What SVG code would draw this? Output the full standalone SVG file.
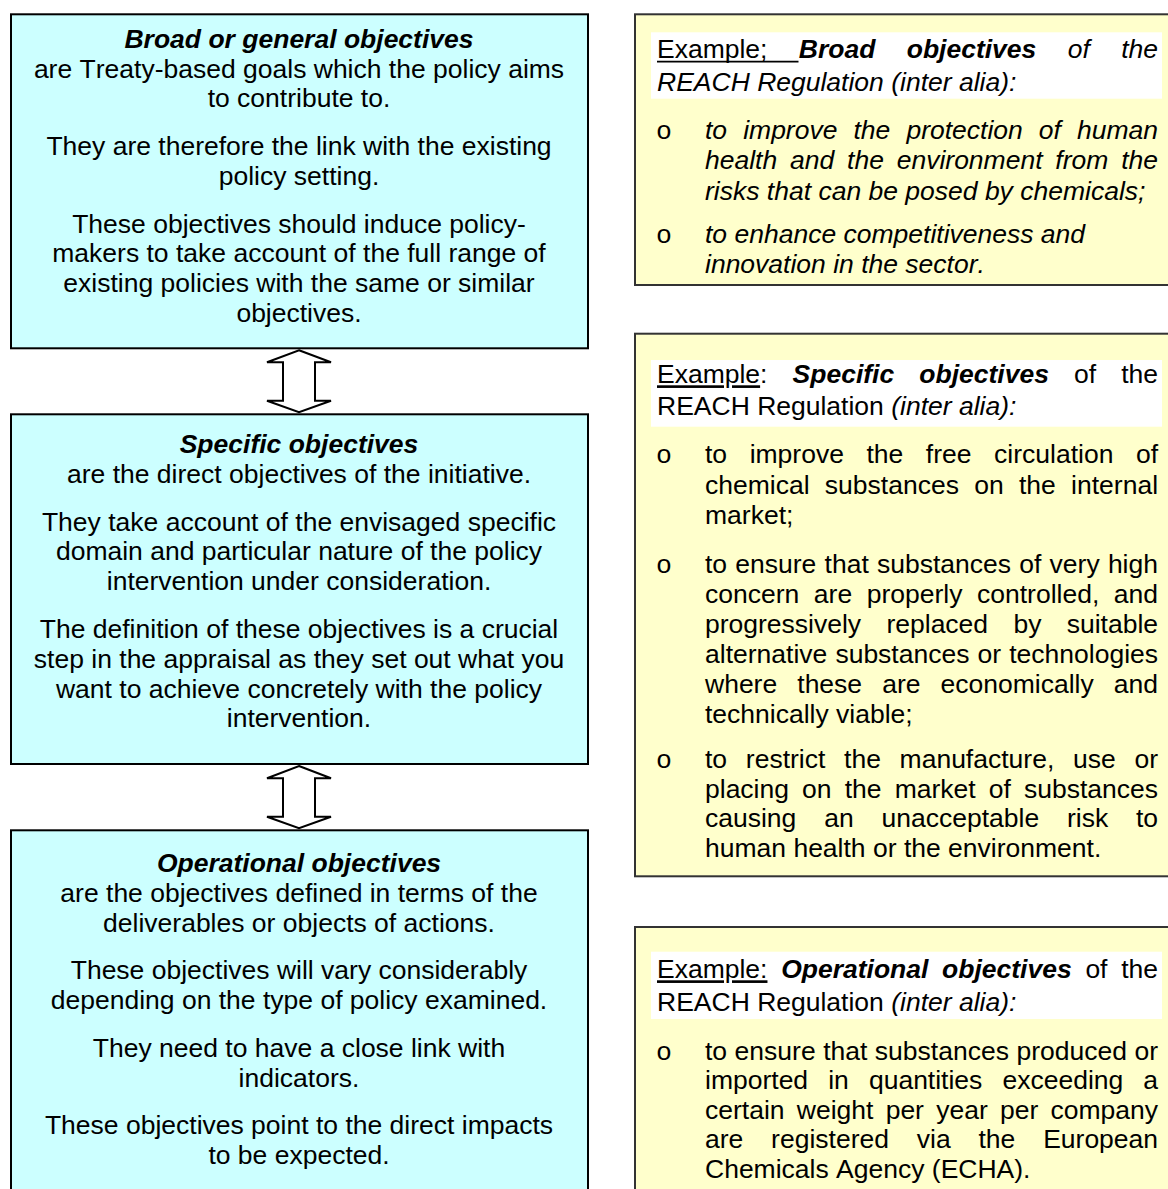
<svg xmlns="http://www.w3.org/2000/svg" width="1168" height="1189" viewBox="0 0 1168 1189">
<style>
text{font-family:"Liberation Sans",Arial,sans-serif;font-size:26.5px;fill:#000;font-kerning:none}
text.b{font-family:"Liberation Mono","Courier New",monospace}
.c{text-anchor:middle}
.bi{font-weight:bold;font-style:italic}
.i{font-style:italic}
.u{text-decoration:underline}
.boxl{fill:#CCFFFF;stroke:#000;stroke-width:2}
.boxr{fill:#FFFFCC;stroke:#333;stroke-width:2}
.hl{fill:#FFFFFF}
.arrow{fill:#FFFFFF;stroke:#000;stroke-width:2;stroke-linejoin:miter}
</style>
<rect width="1168" height="1189" fill="#FFFFFF"/>

<g id="broad">
<rect class="boxl" x="11" y="14.3" width="577" height="334"/>
<text class="c" x="299" y="48"><tspan class="bi">Broad or general objectives</tspan></text>
<text class="c" x="299" y="77.6">are Treaty-based goals which the policy aims</text>
<text class="c" x="299" y="107.2">to contribute to.</text>
<text class="c" x="299" y="155.2">They are therefore the link with the existing</text>
<text class="c" x="299" y="184.8">policy setting.</text>
<text class="c" x="299" y="232.8">These objectives should induce policy-</text>
<text class="c" x="299" y="262.4">makers to take account of the full range of</text>
<text class="c" x="299" y="292">existing policies with the same or similar</text>
<text class="c" x="299" y="321.6">objectives.</text>
</g>

<g id="specific">
<rect class="boxl" x="11" y="414.3" width="577" height="349.7"/>
<text class="c" x="299" y="453"><tspan class="bi">Specific objectives</tspan></text>
<text class="c" x="299" y="482.7">are the direct objectives of the initiative.</text>
<text class="c" x="299" y="530.7">They take account of the envisaged specific</text>
<text class="c" x="299" y="560.4">domain and particular nature of the policy</text>
<text class="c" x="299" y="590.1">intervention under consideration.</text>
<text class="c" x="299" y="638.1">The definition of these objectives is a crucial</text>
<text class="c" x="299" y="667.8">step in the appraisal as they set out what you</text>
<text class="c" x="299" y="697.5">want to achieve concretely with the policy</text>
<text class="c" x="299" y="727.2">intervention.</text>
</g>

<g id="operational">
<rect class="boxl" x="11" y="830.3" width="577" height="400"/>
<text class="c" x="299" y="871.5"><tspan class="bi">Operational objectives</tspan></text>
<text class="c" x="299" y="901.5">are the objectives defined in terms of the</text>
<text class="c" x="299" y="931.5">deliverables or objects of actions.</text>
<text class="c" x="299" y="979">These objectives will vary considerably</text>
<text class="c" x="299" y="1009">depending on the type of policy examined.</text>
<text class="c" x="299" y="1056.5">They need to have a close link with</text>
<text class="c" x="299" y="1086.5">indicators.</text>
<text class="c" x="299" y="1134">These objectives point to the direct impacts</text>
<text class="c" x="299" y="1164">to be expected.</text>
</g>

<g id="connectors">
<polygon class="arrow" points="299,350.3 331,362.3 315,362.3 315,400.7 331,400.7 299,412.3 267,400.7 283,400.7 283,362.3 267,362.3"/>
<polygon class="arrow" points="299,766 331,778.3 315,778.3 315,816.7 331,816.7 299,828.3 267,816.7 283,816.7 283,778.3 267,778.3"/>
</g>

<g id="example-broad">
<rect class="boxr" x="635" y="14.3" width="540" height="270.7"/>
<rect class="hl" x="651" y="32.3" width="511" height="66.4"/>
<text x="657" y="58.3" style="word-spacing:23.98px">Example; <tspan class="bi">Broad objectives</tspan> <tspan class="i">of the</tspan></text>
<line x1="657" y1="61.6" x2="798.5" y2="61.6" stroke="#000" stroke-width="1.9"/>
<text class="i" x="657" y="91">REACH Regulation (inter alia):</text>
<text class="b" x="656" y="139">o</text>
<text class="i" x="705" y="139" style="word-spacing:8.71px">to improve the protection of human</text>
<text class="i" x="705" y="169" style="word-spacing:5.45px">health and the environment from the</text>
<text class="i" x="705" y="199.5">risks that can be posed by chemicals;</text>
<text class="b" x="656" y="243">o</text>
<text class="i" x="705" y="243">to enhance competitiveness and</text>
<text class="i" x="705" y="273">innovation in the sector.</text>
</g>

<g id="example-specific">
<rect class="boxr" x="635" y="333.7" width="540" height="542.6"/>
<rect class="hl" x="651" y="360" width="511" height="66.7"/>
<text x="657" y="383.3" style="word-spacing:17.73px"><tspan class="u">Example</tspan>: <tspan class="bi">Specific objectives</tspan> of the</text>
<text x="657" y="415">REACH Regulation <tspan class="i">(inter alia):</tspan></text>
<text class="b" x="656" y="463.3">o</text>
<text x="705" y="463.3" style="word-spacing:15.19px">to improve the free circulation of</text>
<text x="705" y="494" style="word-spacing:7.93px">chemical substances on the internal</text>
<text x="705" y="524">market;</text>
<text class="b" x="656" y="572.7">o</text>
<text x="705" y="572.7" style="word-spacing:0.86px">to ensure that substances of very high</text>
<text x="705" y="602.7" style="word-spacing:7.2px">concern are properly controlled, and</text>
<text x="705" y="632.7" style="word-spacing:17.96px">progressively replaced by suitable</text>
<text x="705" y="662.7" style="word-spacing:0.76px">alternative substances or technologies</text>
<text x="705" y="692.7" style="word-spacing:12.73px">where these are economically and</text>
<text x="705" y="722.7">technically viable;</text>
<text class="b" x="656" y="768">o</text>
<text x="705" y="768" style="word-spacing:11.35px">to restrict the manufacture, use or</text>
<text x="705" y="797.5" style="word-spacing:5.75px">placing on the market of substances</text>
<text x="705" y="827" style="word-spacing:20.46px">causing an unacceptable risk to</text>
<text x="705" y="856.5">human health or the environment.</text>
</g>

<g id="example-operational">
<rect class="boxr" x="635" y="927" width="540" height="300"/>
<rect class="hl" x="651" y="951.7" width="511" height="67.3"/>
<text x="657" y="978.3" style="word-spacing:6.31px"><tspan class="u">Example:</tspan> <tspan class="bi">Operational objectives</tspan> of the</text>
<text x="657" y="1010.7">REACH Regulation <tspan class="i">(inter alia):</tspan></text>
<text class="b" x="656" y="1060">o</text>
<text x="705" y="1060" style="word-spacing:0.15px">to ensure that substances produced or</text>
<text x="705" y="1089.3" style="word-spacing:12.73px">imported in quantities exceeding a</text>
<text x="705" y="1119.3" style="word-spacing:4.89px">certain weight per year per company</text>
<text x="705" y="1148.3" style="word-spacing:20.46px">are registered via the European</text>
<text x="705" y="1178">Chemicals Agency (ECHA).</text>
</g>
</svg>
